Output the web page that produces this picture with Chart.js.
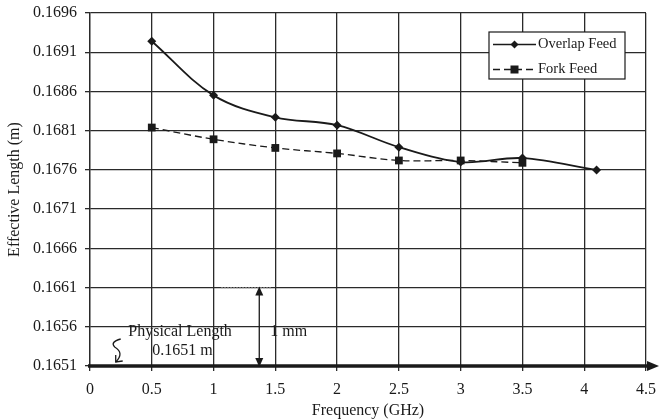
<!DOCTYPE html>
<html><head><meta charset="utf-8">
<script src="https://cdn.jsdelivr.net/npm/chart.js@4"></script>
<style>html,body{margin:0;padding:0;background:#fff}#wrap{width:661px;height:420px}</style>
</head><body><div id="wrap"><canvas id="c" width="661" height="420"></canvas></div>
<script>
const overlapFreq = [0.5, 1, 1.5, 2, 2.5, 3, 3.5, 4.1];
const overlapLen  = [0.16924, 0.16855, 0.16827, 0.16817, 0.16789, 0.16770, 0.16775, 0.16760];
const forkFreq = [0.5, 1, 1.5, 2, 2.5, 3, 3.5];
const forkLen  = [0.16814, 0.16799, 0.16788, 0.16781, 0.16772, 0.16772, 0.16769];
const xTickValues = [0, 0.5, 1, 1.5, 2, 2.5, 3, 3.5, 4, 4.5];
const yTickValues = [0.1651, 0.1656, 0.1661, 0.1666, 0.1671, 0.1676, 0.1681, 0.1686, 0.1691, 0.1696];
const seriesNames = ['Overlap Feed', 'Fork Feed'];
const physicalLength = 0.1651;
const physicalLabel = ['Physical Length', '0.1651 m'];
const spanFreq = 1.37;
const spanTop = 0.1661;
const spanLabel = '1 mm';
const xTitle = 'Frequency (GHz)';
const yTitle = 'Effective Length (m)';

const INK = '#1a1a1a';
const SERIF = '"Liberation Serif", "Times New Roman", serif';
const tickFont = {family: SERIF, size: 16};

const annot = {
  id: 'annot',
  afterDraw(chart) {
    const ctx = chart.ctx, x = chart.scales.x, y = chart.scales.y, ca = chart.chartArea;
    ctx.save();
    // thick x axis line with arrow
    const y0 = y.getPixelForValue(physicalLength);
    ctx.strokeStyle = INK; ctx.fillStyle = INK; ctx.lineWidth = 3.5;
    ctx.beginPath(); ctx.moveTo(ca.left - 2, y0); ctx.lineTo(ca.right + 4, y0); ctx.stroke();
    ctx.beginPath(); ctx.moveTo(ca.right + 13, y0); ctx.lineTo(ca.right + 1, y0 - 5); ctx.lineTo(ca.right + 1, y0 + 5); ctx.closePath(); ctx.fill();
    // dotted line at span top
    const xs = x.getPixelForValue(spanFreq), yt = y.getPixelForValue(spanTop);
    ctx.strokeStyle = '#888'; ctx.lineWidth = 1.2; ctx.setLineDash([1.5, 1.5]);
    ctx.beginPath(); ctx.moveTo(xs - 38, yt); ctx.lineTo(xs + 13, yt); ctx.stroke();
    ctx.setLineDash([]);
    // vertical double arrow
    ctx.strokeStyle = INK; ctx.lineWidth = 1.3;
    ctx.beginPath(); ctx.moveTo(xs, yt + 6); ctx.lineTo(xs, y0 - 6); ctx.stroke();
    ctx.beginPath(); ctx.moveTo(xs, yt - 1); ctx.lineTo(xs - 4, yt + 8); ctx.lineTo(xs + 4, yt + 8); ctx.closePath(); ctx.fill();
    ctx.beginPath(); ctx.moveTo(xs, y0 + 1); ctx.lineTo(xs - 4, y0 - 8); ctx.lineTo(xs + 4, y0 - 8); ctx.closePath(); ctx.fill();
    // texts
    ctx.font = '16px ' + SERIF; ctx.fillStyle = INK; ctx.textBaseline = 'middle'; ctx.textAlign = 'left';
    ctx.fillText(spanLabel, xs + 11, y.getPixelForValue(0.16554));
    const px = x.getPixelForValue(0.31);
    ctx.fillText(physicalLabel[0], px, y.getPixelForValue(0.16553));
    ctx.fillText(physicalLabel[1], px + 24, y.getPixelForValue(0.16529));
    // squiggle arrow
    const sx = x.getPixelForValue(0.2), sy = y0;
    ctx.lineWidth = 1.3; ctx.strokeStyle = INK;
    ctx.beginPath();
    ctx.moveTo(sx + 6, sy - 27);
    ctx.quadraticCurveTo(sx - 5, sy - 24, sx, sy - 19);
    ctx.quadraticCurveTo(sx + 10, sy - 13, sx + 1, sy - 4);
    ctx.stroke();
    ctx.beginPath();
    ctx.moveTo(sx + 1, sy - 11); ctx.lineTo(sx + 1, sy - 4); ctx.lineTo(sx + 8, sy - 5);
    ctx.stroke();
    // legend
    const bx = ca.right - 157, by = ca.top + 19, bw = 136, bh = 47;
    ctx.fillStyle = '#fff'; ctx.fillRect(bx, by, bw, bh);
    ctx.strokeStyle = INK; ctx.lineWidth = 1.2; ctx.strokeRect(bx, by, bw, bh);
    ctx.font = '14.5px ' + SERIF; ctx.textBaseline = 'middle';
    chart.data.datasets.forEach((ds, i) => {
      const ly = by + 12.5 + i * 25;
      ctx.strokeStyle = INK; ctx.lineWidth = 1.5; ctx.setLineDash(ds.borderDash || []);
      ctx.beginPath(); ctx.moveTo(bx + 4, ly); ctx.lineTo(bx + 47, ly); ctx.stroke();
      ctx.setLineDash([]);
      ctx.fillStyle = INK;
      const cx = bx + 25.5;
      if (ds.pointStyle === 'rect') { ctx.fillRect(cx - 4, ly - 4, 8, 8); }
      else { ctx.beginPath(); ctx.moveTo(cx, ly - 4); ctx.lineTo(cx + 4, ly); ctx.lineTo(cx, ly + 4); ctx.lineTo(cx - 4, ly); ctx.closePath(); ctx.fill(); }
      ctx.fillText(ds.label, bx + 49, ly);
    });
    ctx.restore();
  }
};

new Chart(document.getElementById('c'), {
  type: 'scatter',
  data: {
    datasets: [
      {label: seriesNames[0], data: overlapFreq.map((f, i) => ({x: f, y: overlapLen[i]})), showLine: true,
       borderColor: INK, backgroundColor: INK, borderWidth: 1.8, tension: 0.35,
       pointStyle: 'rectRot', pointRadius: 4.5, pointBorderWidth: 0},
      {label: seriesNames[1], data: forkFreq.map((f, i) => ({x: f, y: forkLen[i]})), showLine: true,
       borderColor: INK, backgroundColor: INK, borderWidth: 1.3, borderDash: [7, 4], tension: 0.35,
       pointStyle: 'rect', pointRadius: 5.5, pointBorderWidth: 0}
    ]
  },
  options: {
    responsive: false, animation: false, devicePixelRatio: 1,
    layout: {padding: {top: 13, right: 15, left: 0, bottom: 0}},
    plugins: {legend: {display: false}, tooltip: {enabled: false}},
    elements: {line: {clip: false}},
    scales: {
      x: {type: 'linear', min: 0, max: 4.5,
        afterBuildTicks: s => { s.ticks = xTickValues.map(v => ({value: v})); },
        afterFit: s => { s.height = 54; s.paddingLeft = 0; s.paddingRight = 0; },
        grid: {color: '#2a2a2a', lineWidth: 1.3, tickLength: 5, tickColor: '#2a2a2a'},
        border: {display: false},
        ticks: {font: tickFont, color: INK, padding: 9, maxRotation: 0, autoSkip: false, callback: v => String(v)},
        title: {display: true, text: xTitle, font: tickFont, color: INK, padding: {top: 0, bottom: 0}}
      },
      y: {type: 'linear', min: 0.1651, max: 0.1696,
        afterBuildTicks: s => { s.ticks = yTickValues.map(v => ({value: v})); },
        afterFit: s => { s.width = 90; s.paddingTop = 0; s.paddingBottom = 0; },
        grid: {color: '#2a2a2a', lineWidth: 1.3, tickLength: 5, tickColor: '#2a2a2a'},
        border: {display: true, color: '#2a2a2a', width: 1.3},
        ticks: {font: tickFont, color: INK, padding: 8, autoSkip: false, callback: v => v.toFixed(4)},
        title: {display: true, text: yTitle, font: tickFont, color: INK, padding: {top: 5, bottom: 0}}
      }
    }
  },
  plugins: [annot]
});
</script></body></html>
